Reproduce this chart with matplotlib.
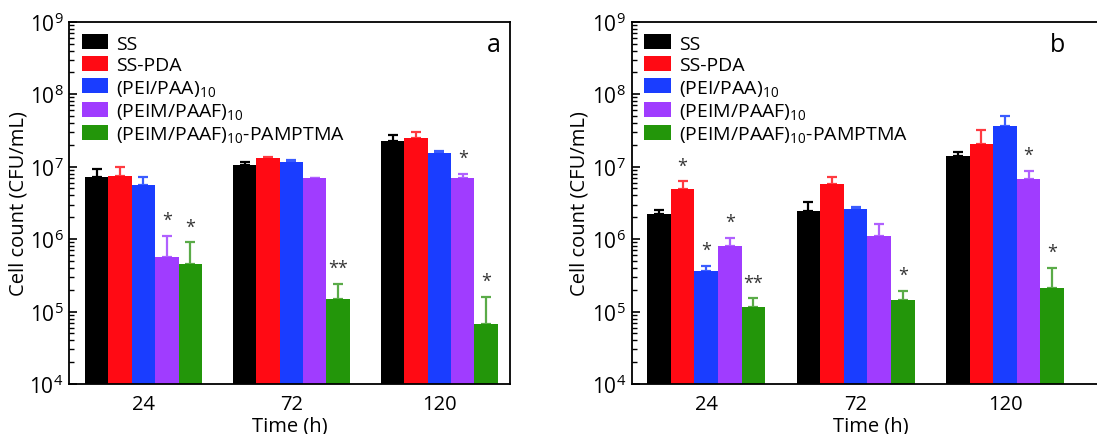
import numpy as np
import matplotlib
matplotlib.use('Agg')
import matplotlib.pyplot as plt
from matplotlib.ticker import LogLocator, FuncFormatter, NullFormatter

plt.rcParams['font.family'] = ['Open Sans', 'DejaVu Sans']
plt.rcParams['mathtext.fontset'] = 'custom'
plt.rcParams['mathtext.rm'] = 'Open Sans'
plt.rcParams['mathtext.it'] = 'Open Sans'

times = ['24', '72', '120']
series = ['SS', 'SS-PDA', '(PEI/PAA)$_\\mathregular{10}$',
          '(PEIM/PAAF)$_\\mathregular{10}$', '(PEIM/PAAF)$_\\mathregular{10}$-PAMPTMA']
colors = ['#000000', '#ff0a14', '#1a3dff', '#a03cff', '#23960a']
err_colors = ['#000000', '#ff3a40', '#3a5cff', '#b060ff', '#5aab48']

# panel a: rows = series, columns = times
a_vals = [[7.1e6, 1.05e7, 2.25e7],
          [7.5e6, 1.30e7, 2.45e7],
          [5.6e6, 1.14e7, 1.53e7],
          [5.6e5, 6.9e6, 7.0e6],
          [4.5e5, 1.47e5, 6.7e4]]
a_err_top = [[9.4e6, 1.15e7, 2.72e7],
             [9.9e6, 1.34e7, 3.0e7],
             [7.3e6, 1.23e7, 1.65e7],
             [1.1e6, 7.0e6, 8.0e6],
             [9.0e5, 2.4e5, 1.6e5]]
a_stars = {(3, 0): '*', (4, 0): '*', (4, 1): '**', (3, 2): '*', (4, 2): '*'}

# panel b
b_vals = [[2.23e6, 2.41e6, 1.38e7],
          [4.94e6, 5.7e6, 2.08e7],
          [3.6e5, 2.62e6, 3.58e7],
          [7.9e5, 1.1e6, 6.7e6],
          [1.14e5, 1.43e5, 2.13e5]]
b_err_top = [[2.48e6, 3.3e6, 1.6e7],
             [6.25e6, 7.1e6, 3.18e7],
             [4.25e5, 2.76e6, 5.0e7],
             [1.04e6, 1.6e6, 8.75e6],
             [1.52e5, 1.94e5, 4.0e5]]
b_stars = {(1, 0): '*', (2, 0): '*', (3, 0): '*', (4, 0): '**',
           (4, 1): '*', (3, 2): '*', (4, 2): '*'}


def log_fmt(v, pos):
    e = int(round(np.log10(v)))
    return '10$^\\mathregular{%d}$' % e


def draw_panel(ax, vals, err_top, stars, letter, xlim, letter_x, ylab_x):
    x = np.arange(len(times))
    w = 0.158
    for i in range(len(series)):
        xi = x + (i - 2) * w
        v = np.array(vals[i])
        up = np.array(err_top[i]) - v
        ax.bar(xi, v, w, color=colors[i], label=series[i], zorder=2)
        ax.errorbar(xi, v, yerr=[np.zeros_like(v), up], fmt='none',
                    ecolor=err_colors[i], elinewidth=1.6, capsize=3.5,
                    capthick=1.6, zorder=1)
        for (si, ti), s in stars.items():
            if si == i:
                ax.annotate(s, (xi[ti], err_top[i][ti]), xytext=(0, 5),
                            textcoords='offset points', ha='center',
                            va='bottom', fontsize=13, color='#333333')
    ax.set_yscale('log')
    ax.set_ylim(1e4, 1e9)
    ax.set_xlim(*xlim)
    ax.set_xticks(x)
    ax.set_xticklabels(times)
    ax.yaxis.set_major_locator(LogLocator(base=10, numticks=10))
    ax.yaxis.set_minor_locator(LogLocator(base=10, subs=np.arange(2, 10), numticks=20))
    ax.yaxis.set_major_formatter(FuncFormatter(log_fmt))
    ax.yaxis.set_minor_formatter(NullFormatter())
    ax.tick_params(axis='y', which='major', direction='in', length=6, width=1.2, labelsize=15, pad=4)
    ax.tick_params(axis='y', which='minor', direction='in', length=3.5, width=1.0)
    ax.tick_params(axis='x', direction='in', length=5, width=1.2, labelsize=14.5, pad=7)
    for sp in ax.spines.values():
        sp.set_linewidth(1.3)
    ax.set_xlabel('Time (h)', fontsize=14.5, labelpad=1)
    ax.set_ylabel('Cell count (CFU/mL)', fontsize=14.5)
    ax.yaxis.set_label_coords(ylab_x, 0.5)
    ax.text(letter_x, 0.938, letter, transform=ax.transAxes, fontsize=18, ha='center', va='center')
    ax.legend(loc='upper left', bbox_to_anchor=(0.0, 1.0), frameon=False, fontsize=14,
              handlelength=1.35, handleheight=0.82, handletextpad=0.42,
              labelspacing=0.17, borderaxespad=0.35, borderpad=0.3)


fig = plt.figure(figsize=(10.97, 4.35), dpi=100)
ax1 = fig.add_axes([69 / 1097, 1 - 385 / 435, 441 / 1097, 362.3 / 435])
ax2 = fig.add_axes([631.7 / 1097, 1 - 385 / 435, 478.3 / 1097, 362.3 / 435])

draw_panel(ax1, a_vals, a_err_top, a_stars, 'a', (-0.503, 2.477),
           (494 - 69) / 441, (29 - 69) / 441)
draw_panel(ax2, b_vals, b_err_top, b_stars, 'b', (-0.499, 2.703),
           (1058 - 631.7) / 478.3, (590 - 631.7) / 478.3)

fig.savefig('out.png', dpi=100)
